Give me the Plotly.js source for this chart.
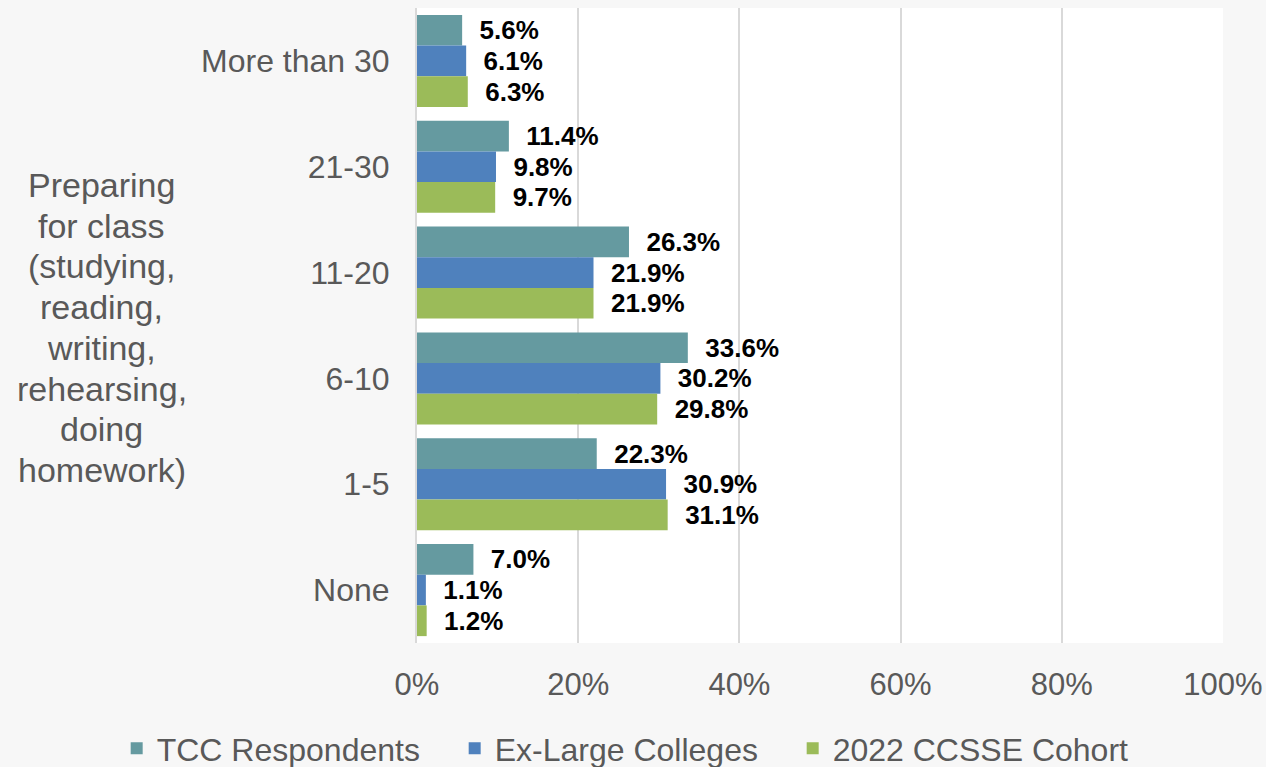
<!DOCTYPE html>
<html>
<head>
<meta charset="utf-8">
<script src="https://cdn.plot.ly/plotly-3.0.1.min.js"></script>
<style>html,body{margin:0;padding:0;background:#f7f7f7;}#chart{width:1266px;height:767px;}</style>
</head>
<body>
<div id="chart"></div>
<script>
const categories = ["More than 30", "21-30", "11-20", "6-10", "1-5", "None"];
const seriesNames = ["TCC Respondents", "Ex-Large Colleges", "2022 CCSSE Cohort"];
const tccValues = [5.6, 11.4, 26.3, 33.6, 22.3, 7.0];
const exLargeValues = [6.1, 9.8, 21.9, 30.2, 30.9, 1.1];
const cohortValues = [6.3, 9.7, 21.9, 29.8, 31.1, 1.2];
const tickValues = [0, 20, 40, 60, 80, 100];
const tickLabels = ["0%", "20%", "40%", "60%", "80%", "100%"];
const axisTitleLines = ["Preparing", "for class", "(studying,", "reading,", "writing,", "rehearsing,", "doing", "homework)"];
const colors = ["#659aa0", "#4f81bd", "#9bbb59"];

const FONT = "Liberation Sans, Arial, sans-serif";
const allValues = [tccValues, exLargeValues, cohortValues];

const traces = allValues.map((vals, i) => ({
  type: "bar",
  orientation: "h",
  name: seriesNames[i],
  y: categories,
  x: vals,
  marker: {color: colors[i]},
  text: vals.map(v => "\u00a0\u00a0" + v.toFixed(1) + "%"),
  textposition: "outside",
  textfont: {family: FONT, size: 26, color: "#000000", weight: "bold"},
  constraintext: "none",
  cliponaxis: false,
  hoverinfo: "skip"
}));

// axis title lines laid out as a stacked annotation block (plot area: top 8px, height 635px)
const plotTop = 8, plotH = 635, firstLinePx = 185, lineStep = 40.7;
const titleAnnotations = axisTitleLines.map((t, k) => ({
  text: t,
  xref: "paper", yref: "paper",
  x: -0.391, y: 1 - (firstLinePx + k * lineStep - plotTop) / plotH,
  xanchor: "center", yanchor: "middle",
  showarrow: false,
  font: {family: FONT, size: 34, color: "#595959"}
}));

const layout = {
  width: 1266,
  height: 767,
  paper_bgcolor: "#f7f7f7",
  plot_bgcolor: "#ffffff",
  margin: {l: 417, r: 43, t: 8, b: 124, autoexpand: false},
  barmode: "group",
  bargap: 0.13,
  bargroupgap: 0,
  font: {family: FONT, color: "#595959", size: 31},
  xaxis: {
    range: [0, 100],
    tickvals: tickValues,
    ticktext: tickLabels,
    tickangle: 0,
    showgrid: true,
    gridcolor: "#d9d9d9",
    gridwidth: 2,
    zeroline: false,
    showline: false,
    ticks: "",
    automargin: false,
    ticklabelstandoff: 20,
    tickfont: {family: FONT, size: 31, color: "#595959"},
    fixedrange: true
  },
  yaxis: {
    autorange: "reversed",
    type: "category",
    showgrid: false,
    zeroline: false,
    showline: true,
    linecolor: "#d9d9d9",
    linewidth: 2,
    ticks: "",
    automargin: false,
    ticklabelstandoff: 19,
    tickfont: {family: FONT, size: 32, color: "#595959"},
    fixedrange: true
  },
  showlegend: true,
  legend: {
    orientation: "h",
    x: -0.3726, xref: "paper", xanchor: "left",
    y: -0.166, yanchor: "middle",
    font: {family: FONT, size: 32, color: "#595959"},
    bgcolor: "rgba(0,0,0,0)",
    itemwidth: 30,
    entrywidth: 293,
    entrywidthmode: "pixels",
    traceorder: "normal"
  },
  annotations: titleAnnotations
};

Plotly.newPlot("chart", traces, layout, {displayModeBar: false, staticPlot: true});
</script>
</body>
</html>
